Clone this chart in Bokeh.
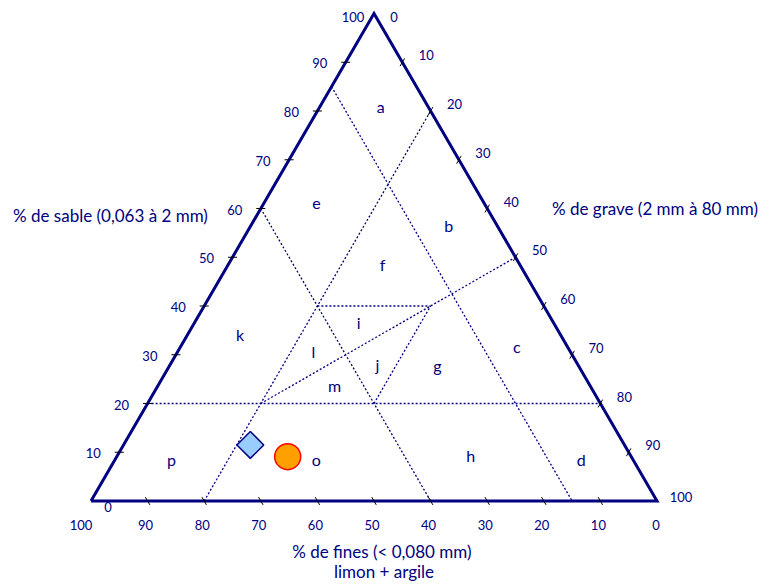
import math
from bokeh.plotting import figure
from bokeh.models import Range1d
from bokeh.core.properties import value
from bokeh.embed import file_html
from bokeh.resources import INLINE

# ---------------- data ----------------
tick_values = [10, 20, 30, 40, 50, 60, 70, 80, 90]
tick_labels = ["10", "20", "30", "40", "50", "60", "70", "80", "90"]

# classification boundary lines, as ternary (sand %, gravel %) end points
line_sand_start = [85, 0, 60, 20, 40, 20, 20]
line_grav_start = [0, 20, 0, 0, 20, 40, 20]
line_sand_end = [0, 80, 0, 20, 40, 40, 50]
line_grav_end = [85, 20, 60, 80, 40, 40, 50]

# zone letters and their (sand %, gravel %) position
zone_names = ["a", "b", "c", "d", "e", "f", "g", "h", "i", "j", "k", "l", "m", "o", "p"]
zone_sand = [80.4, 56.0, 31.1, 8.0, 60.5, 48.0, 27.2, 8.8, 36.0, 27.4, 33.5, 30.0, 23.1, 8.0, 8.0]
zone_grav = [11.0, 35.2, 59.7, 82.6, 9.6, 27.5, 47.6, 62.7, 29.3, 36.9, 9.6, 24.3, 31.5, 35.8, 10.2]

# samples (sand %, gravel %, fines %)
sample_a = {"sand": [11.5], "gravel": [22.4], "fines": [66.1]}
sample_b = {"sand": [9.1], "gravel": [30.2], "fines": [60.7]}

NAVY = "#000080"
FONT = "Lato"
R3 = math.sqrt(3) / 2


def tern(s, g):
    return g + s / 2.0, s * R3


# ---------------- figure ----------------
sx = 5.66    # px per unit, x
sy = 5.629   # px per unit, y
W, H = 760, 584
x0px, y0px = 90.5, 500.5
p = figure(width=W, height=H, output_backend="svg", toolbar_location=None,
           x_range=Range1d(-x0px / sx, (W - x0px) / sx),
           y_range=Range1d((y0px - H) / sy, y0px / sy),
           min_border=0, outline_line_color=None, background_fill_color="white")
p.axis.visible = False
p.grid.visible = False

# dotted boundary lines
for s0, g0, s1, g1 in zip(line_sand_start, line_grav_start, line_sand_end, line_grav_end):
    a = tern(s0, g0)
    b = tern(s1, g1)
    p.line([a[0], b[0]], [a[1], b[1]], line_color=NAVY, line_width=1.3, line_dash="2 2")

# triangle outline
corners = [tern(0, 0), tern(0, 100), tern(100, 0), tern(0, 0)]
p.line([c[0] for c in corners], [c[1] for c in corners], line_color=NAVY, line_width=3,
       line_join="miter")

# ticks
h = 0.8
txs, tys = [], []
for v in tick_values:
    x, y = tern(v, 0)
    txs.append([x - h, x + h]); tys.append([y, y])
    x, y = tern(100 - v, v)
    txs.append([x - h * 0.5, x + h * 0.5]); tys.append([y - h * R3, y + h * R3])
    x, y = tern(0, 100 - v)
    txs.append([x - h * 0.5, x + h * 0.5]); tys.append([y + h * R3, y - h * R3])
p.multi_line(txs, tys, line_color="black", line_width=1)

tick_font = dict(text_font=value(FONT), text_font_size="13px", text_color=NAVY,
                 text_align="center", text_baseline="middle")

lx = [tern(v, 0)[0] for v in tick_values]
ly = [tern(v, 0)[1] for v in tick_values]
p.text(lx, ly, text=tick_labels, x_offset=-26, y_offset=1, **tick_font)
rx = [tern(100 - v, v)[0] for v in tick_values]
ry = [tern(100 - v, v)[1] for v in tick_values]
p.text(rx, ry, text=tick_labels, x_offset=24, y_offset=-7, **tick_font)
bx = [tern(0, 100 - v)[0] for v in tick_values]
by = [tern(0, 100 - v)[1] for v in tick_values]
p.text(bx, by, text=tick_labels, x_offset=-2, y_offset=24, **tick_font)

top = tern(100, 0)
p.text([top[0]], [top[1]], text=["100"], x_offset=-21, y_offset=3, **tick_font)
p.text([top[0]], [top[1]], text=["0"], x_offset=20, y_offset=3, **tick_font)
bl = tern(0, 0)
p.text([bl[0]], [bl[1]], text=["0"], x_offset=17, y_offset=6, **tick_font)
p.text([bl[0]], [bl[1]], text=["100"], x_offset=-10, y_offset=24, **tick_font)
br = tern(0, 100)
p.text([br[0]], [br[1]], text=["100"], x_offset=24, y_offset=-4, **tick_font)
p.text([br[0]], [br[1]], text=["0"], x_offset=-1, y_offset=24, **tick_font)

zx = [tern(s, g)[0] for s, g in zip(zone_sand, zone_grav)]
zy = [tern(s, g)[1] for s, g in zip(zone_sand, zone_grav)]
p.text(zx, zy, text=zone_names, text_font=value(FONT), text_font_size="16px",
       text_color=NAVY, text_align="center", text_baseline="middle", y_offset=-3)

ax_, ay_ = tern(sample_a["sand"][0], sample_a["gravel"][0])
p.scatter([ax_], [ay_], marker="square", size=19, angle=math.pi / 4,
          fill_color="#99CCFF", line_color=NAVY, line_width=1.5)
bx_, by_ = tern(sample_b["sand"][0], sample_b["gravel"][0])
p.scatter([bx_], [by_], marker="circle", size=26, fill_color="#FFA000",
          line_color="#FF0000", line_width=1.5)

title_font = dict(text_font=value(FONT), text_font_size="17px", text_color=NAVY,
                  text_baseline="middle")
p.text([bl[0]], [bl[1]], text=["%  de sable (0,063 à 2 mm)"], x_offset=-78, y_offset=-286,
       text_align="left", **title_font)
p.text([br[0]], [br[1]], text=["% de grave (2 mm à 80 mm)"], x_offset=-105, y_offset=-293,
       text_align="left", **title_font)
mid = tern(0, 50)
p.text([mid[0]], [mid[1]], text=["%  de fines (< 0,080 mm)"], x_offset=10, y_offset=50,
       text_align="center", **title_font)
p.text([mid[0]], [mid[1]], text=["limon + argile"], x_offset=10, y_offset=70,
       text_align="center", **title_font)

open("out.html", "w").write(file_html(p, INLINE))
